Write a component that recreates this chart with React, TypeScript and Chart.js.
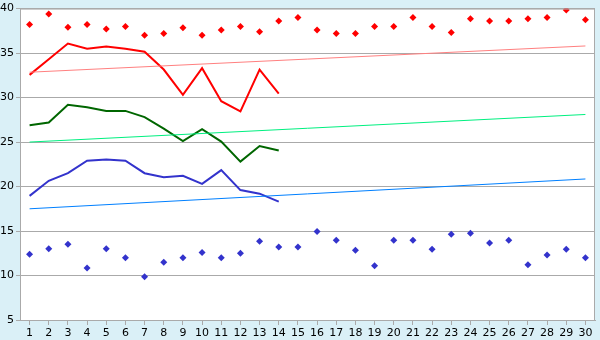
import React, { useEffect, useRef } from "react";
import { Chart, registerables } from "chart.js";

Chart.register(...registerables);

const days = Array.from({ length: 30 }, (_, i) => String(i + 1));

const redPoints = [38.2, 39.4, 37.9, 38.2, 37.7, 38.0, 37.0, 37.2, 37.85, 37.0, 37.6, 38.0, 37.4, 38.6, 39.0, 37.6, 37.2, 37.2, 38.0, 38.0, 39.0, 38.0, 37.3, 38.85, 38.6, 38.6, 38.85, 39.0, 39.85, 38.75];
const bluePoints = [12.4, 13.0, 13.5, 10.85, 13.0, 12.0, 9.85, 11.5, 12.0, 12.6, 12.0, 12.5, 13.85, 13.2, 13.2, 14.95, 13.95, 12.85, 11.1, 13.95, 13.95, 12.95, 14.65, 14.75, 13.65, 13.95, 11.2, 12.3, 12.95, 12.0];

const redLine = [32.55, 34.3, 36.07, 35.5, 35.74, 35.48, 35.15, 33.15, 30.3, 33.3, 29.6, 28.45, 33.15, 30.45];
const greenLine = [26.9, 27.2, 29.2, 28.9, 28.5, 28.5, 27.8, 26.5, 25.1, 26.45, 25.05, 22.8, 24.55, 24.05];
const blueLine = [18.95, 20.65, 21.5, 22.9, 23.05, 22.9, 21.5, 21.05, 21.2, 20.3, 21.85, 19.6, 19.2, 18.3];

const redTrend = [32.85, 35.8];
const greenTrend = [25.0, 28.1];
const blueTrend = [17.5, 20.85];

const yMin = 5;
const yMax = 40;
const yStep = 5;

const trend = (vals: number[]) => [
  { x: days[0], y: vals[0] },
  { x: days[days.length - 1], y: vals[1] },
];

const bgPlugin = {
  id: "bgPlugin",
  beforeDraw(chart: any) {
    const { ctx, chartArea } = chart;
    ctx.save();
    ctx.fillStyle = "#DAF0F7";
    ctx.fillRect(0, 0, chart.width, chart.height);
    ctx.fillStyle = "#FFFFFF";
    ctx.fillRect(chartArea.left, chartArea.top, chartArea.right - chartArea.left, chartArea.bottom - chartArea.top);
    ctx.restore();
  },
  afterDatasetsDraw(chart: any) {
    const { ctx, chartArea } = chart;
    ctx.save();
    ctx.strokeStyle = "#AAAAAA";
    ctx.lineWidth = 1;
    ctx.strokeRect(chartArea.left + 0.5, chartArea.top + 0.5, chartArea.right - chartArea.left - 1, chartArea.bottom - chartArea.top);
    ctx.restore();
  },
};

export default function App() {
  const ref = useRef<HTMLCanvasElement>(null);
  useEffect(() => {
    document.body.style.margin = "0";
    const c = new Chart(ref.current!, {
      type: "line",
      data: {
        labels: days,
        datasets: [
          { data: trend(redTrend), borderColor: "#FF8080", borderWidth: 1, pointRadius: 0, fill: false },
          { data: trend(greenTrend), borderColor: "#00F080", borderWidth: 1, pointRadius: 0, fill: false },
          { data: trend(blueTrend), borderColor: "#0080FF", borderWidth: 1, pointRadius: 0, fill: false },
          { data: redLine, borderColor: "#FF0000", borderWidth: 2, pointRadius: 0, fill: false },
          { data: greenLine, borderColor: "#006600", borderWidth: 2, pointRadius: 0, fill: false },
          { data: blueLine, borderColor: "#3333CC", borderWidth: 2, pointRadius: 0, fill: false },
          { data: redPoints, showLine: false, pointStyle: "rectRot", pointRadius: 3.5, backgroundColor: "#FF0000", borderColor: "#FF0000", borderWidth: 0 },
          { data: bluePoints, showLine: false, pointStyle: "rectRot", pointRadius: 3.5, backgroundColor: "#3333CC", borderColor: "#3333CC", borderWidth: 0 },
        ],
      },
      options: {
        animation: false,
        responsive: false,
        layout: { padding: { top: 5, right: 5, left: 0, bottom: 0 } },
        plugins: { legend: { display: false }, tooltip: { enabled: false }, title: { display: false } },
        scales: {
          x: {
            type: "category",
            offset: true,
            afterFit: (s: any) => { s.height = 20; },
            grid: { display: true, drawOnChartArea: false, color: "#AAAAAA", tickLength: 5, offset: false },
            border: { color: "#AAAAAA" },
            ticks: { color: "#000000", font: { family: "DejaVu Sans", size: 11 }, padding: 2, maxRotation: 0, autoSkip: false },
          },
          y: {
            min: yMin,
            max: yMax,
            afterFit: (s: any) => { s.width = 20; },
            grid: { color: "#AAAAAA", tickLength: 4 },
            border: { color: "#AAAAAA" },
            ticks: { stepSize: yStep, color: "#000000", font: { family: "DejaVu Sans", size: 11 }, padding: 2 },
          },
        },
      },
      plugins: [bgPlugin],
    } as any);
    return () => c.destroy();
  }, []);
  return <canvas ref={ref} width={600} height={340} style={{ display: "block" }} />;
}
